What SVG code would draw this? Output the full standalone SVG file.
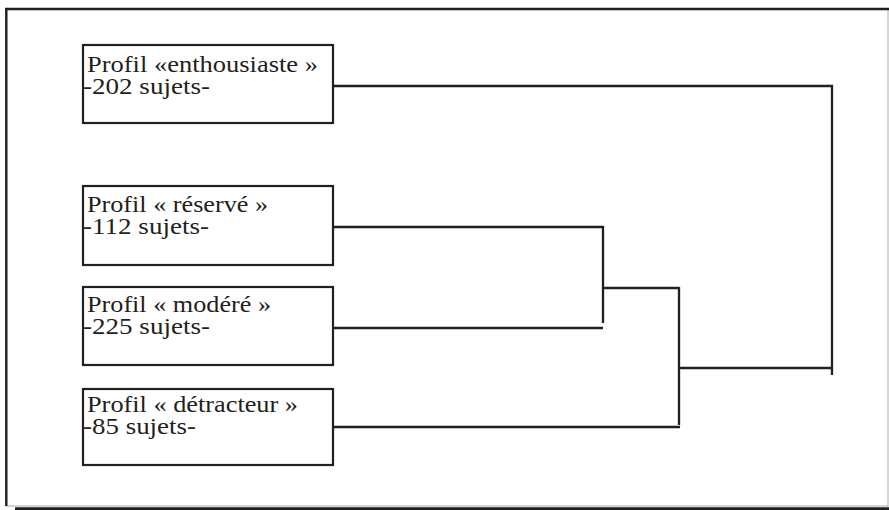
<svg xmlns="http://www.w3.org/2000/svg" width="889" height="510" viewBox="0 0 889 510">
<style>
.box{fill:#fff;stroke:#231f20;stroke-width:2.2}
.t{font-family:"Liberation Serif","Times New Roman",serif;font-size:24px;fill:#231f20}
.c{fill:none;stroke:#231f20;stroke-width:2.3}
</style>
<rect width="889" height="510" fill="#fff"/>
<g id="frame">
<line x1="888" y1="9" x2="888" y2="507" stroke="#bbb" stroke-width="1.2"/>
<line x1="6" y1="506" x2="888" y2="506" stroke="#aaa" stroke-width="1"/>
<line x1="15" y1="508.7" x2="889" y2="508.7" stroke="#231f20" stroke-width="2.8"/>
<line x1="6.3" y1="8" x2="6.3" y2="506" stroke="#231f20" stroke-width="2.4"/>
<line x1="5" y1="9" x2="889" y2="9" stroke="#231f20" stroke-width="2.6"/>
</g>
<g id="connectors">
<path class="c" d="M333,86 H832 V375"/>
<path class="c" d="M333,227 H603 V323"/>
<path class="c" d="M333,328 H603"/>
<path class="c" d="M602,288 H679"/>
<path class="c" d="M679,287 V425"/>
<path class="c" d="M333,427 H680"/>
<path class="c" d="M679,368 H832"/>
</g>
<g id="node-enthousiaste">
<rect class="box" x="83" y="45" width="250" height="78"/>
<text class="t" x="87" y="72" textLength="231" lengthAdjust="spacingAndGlyphs">Profil «enthousiaste »</text>
<text class="t" x="83" y="94" textLength="127" lengthAdjust="spacingAndGlyphs">-202 sujets-</text>
</g>
<g id="node-reserve">
<rect class="box" x="83" y="186" width="250" height="79"/>
<text class="t" x="87" y="212" textLength="181" lengthAdjust="spacingAndGlyphs">Profil « réservé »</text>
<text class="t" x="83" y="234" textLength="126" lengthAdjust="spacingAndGlyphs">-112 sujets-</text>
</g>
<g id="node-modere">
<rect class="box" x="83" y="287" width="250" height="78"/>
<text class="t" x="87" y="312" textLength="184" lengthAdjust="spacingAndGlyphs">Profil « modéré »</text>
<text class="t" x="83" y="334" textLength="127" lengthAdjust="spacingAndGlyphs">-225 sujets-</text>
</g>
<g id="node-detracteur">
<rect class="box" x="83" y="389" width="250" height="76"/>
<text class="t" x="87" y="412" textLength="211" lengthAdjust="spacingAndGlyphs">Profil « détracteur »</text>
<text class="t" x="83" y="434" textLength="113" lengthAdjust="spacingAndGlyphs">-85 sujets-</text>
</g>
</svg>
